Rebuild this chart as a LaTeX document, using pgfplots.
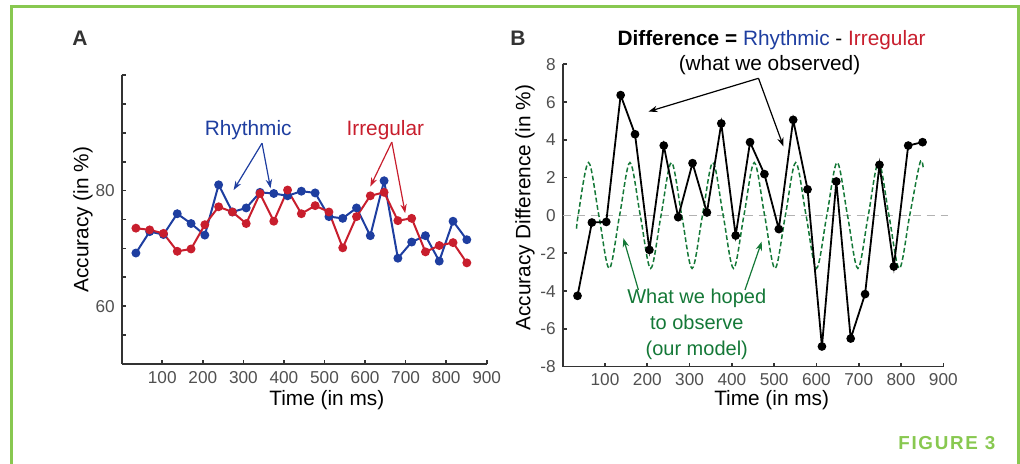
\documentclass[border=0pt]{standalone}
\usepackage{fontspec}
\setmainfont{Liberation Sans}
\newfontfamily\figfont[LetterSpace=9]{Liberation Sans}
\usepackage{pgfplots}
\usepackage{pgfplotstable}
\pgfplotsset{compat=1.18}
\usetikzlibrary{arrows.meta}

\definecolor{rhy}{RGB}{30,62,160}
\definecolor{irr}{RGB}{200,30,45}
\definecolor{mdl}{RGB}{20,120,55}
\definecolor{frm}{RGB}{136,200,80}
\definecolor{axc}{RGB}{51,51,51}
\definecolor{tkc}{RGB}{80,80,80}

% accuracy per time bin (ms): rhythmic, irregular, difference
\pgfplotstableread{
t   rhy   irr   diff
35  69.2  73.5  -4.25
69  72.9  73.2  -0.37
103 72.4  72.6  -0.34
137 76.0  69.5   6.37
171 74.3  69.9   4.30
205 72.3  74.1  -1.82
239 81.0  77.2   3.70
273 76.3  76.3  -0.09
307 77.0  74.3   2.77
341 79.7  79.5   0.16
375 79.5  74.7   4.87
409 79.1  80.1  -1.06
443 79.9  76.0   3.88
477 79.6  77.4   2.19
511 75.5  76.3  -0.72
545 75.2  70.1   5.06
579 77.0  75.5   1.38
613 72.2  79.1  -6.93
647 81.7  79.7   1.80
681 68.3  74.8  -6.51
715 71.1  75.2  -4.16
749 72.2  69.4   2.68
783 67.8  70.5  -2.70
817 74.7  71.0   3.70
851 71.5  67.5   3.88
}\acc

% model (dashed green): peaks, troughs and zero crossings
\pgfplotstableread{
t     v
33    -0.7
36.5   0
61     2.8
85.5   0
110   -2.8
134.5  0
159    2.8
183.5  0
208   -2.8
232.5  0
257    2.8
281.5  0
306   -2.8
330.5  0
355    2.8
379.5  0
404   -2.8
428.5  0
453    2.8
477.5  0
502   -2.8
526.5  0
551    2.8
575.5  0
600   -2.8
624.5  0
649    2.8
673.5  0
698   -2.8
722.5  0
747    2.8
771.5  0
796   -2.8
820.5  0
845    2.8
853    2.45
}\model

\tikzset{ann/.style={-{Stealth[length=4.5pt,width=3.2pt]}, line width=0.6pt}}

\pgfplotsset{
  panel/.style={
    scale only axis,
    axis lines=left,
    axis line style={-,axc,line width=0.8pt},
    tick align=inside,
    major tick length=2pt, minor tick length=2pt,
    tick style={axc,line width=0.8pt},
    tick label style={font=\fontsize{8.6}{10}\selectfont, color=tkc},
    /pgf/number format/assume math mode=true,
    label style={font=\fontsize{10.4}{12}\selectfont},
    clip=false,
    xmin=0, xmax=900,
    xtick={100,200,...,900},
    xlabel={Time (in ms)},
  },
}

\begin{document}
\begin{tikzpicture}
\path[use as bounding box] (0pt,0pt) rectangle (510pt,232pt);
\draw[frm, line width=1.5pt] (5.75pt,0pt) -- (5.75pt,228.5pt) -- (509pt,228.5pt) -- (509pt,0pt);

\node[font=\fontsize{10.5}{12}\selectfont\bfseries, text=axc] at (40pt,213pt) {A};
\node[font=\fontsize{10.5}{12}\selectfont\bfseries, text=axc] at (259pt,213pt) {B};
\node[font=\figfont\bfseries\fontsize{9.4}{11}\selectfont, text=frm] at (473.4pt,10.35pt) {FIGURE 3};

% ---- panel A
\begin{axis}[panel,
  at={(60.85pt,50pt)}, anchor=south west,
  width=182.5pt, height=144.5pt,
  ymin=50, ymax=100,
  ytick={60,80},
  minor ytick={55,65,70,75,85,90,95,100},
  ylabel={Accuracy (in \%)},
  ylabel style={at={(axis description cs:-0.106,0.5)}, anchor=center},
  xlabel style={at={(axis description cs:0.562,-0.125)}, anchor=center},
]
\addplot[rhy, line width=1pt, mark=*, mark size=1.7pt] table[x=t,y=rhy]{\acc};
\addplot[irr, line width=1pt, mark=*, mark size=1.7pt] table[x=t,y=irr]{\acc};

\node[rhy, font=\fontsize{10.4}{12}\selectfont] at (axis cs:312,90.5) {Rhythmic};
\draw[ann, rhy] (axis cs:346,88.2) -- (axis cs:276,80.1);
\draw[ann, rhy] (axis cs:346,88.2) -- (axis cs:367,80.4);
\node[irr, font=\fontsize{10.4}{12}\selectfont] at (axis cs:650,90.5) {Irregular};
\draw[ann, irr] (axis cs:666,88.4) -- (axis cs:613,80.7);
\draw[ann, irr] (axis cs:666,88.4) -- (axis cs:699,76.1);
\end{axis}

% ---- panel B
\begin{axis}[panel,
  at={(281.35pt,48.65pt)}, anchor=south west,
  width=190.3pt, height=151.2pt,
  ymin=-8, ymax=8,
  ytick={-8,-6,...,8},
  ylabel={Accuracy Difference (in \%)},
  ylabel style={at={(axis description cs:-0.099,0.526)}, anchor=center},
  xlabel style={at={(axis description cs:0.549,-0.11)}, anchor=center},
]
\addplot[gray!60, line width=0.8pt, dash pattern=on 4pt off 3pt] coordinates {(0,0) (910,0)};
\addplot[mdl, line width=0.75pt, dash pattern=on 2.4pt off 1.3pt, smooth, tension=0.55] table[x=t,y=v]{\model};
\addplot[black, line width=0.9pt, mark=*, mark size=1.7pt] table[x=t,y=diff]{\acc};

\node[font=\fontsize{10.4}{12}\selectfont] at (axis cs:494,9.3)
  {\textbf{Difference =} \textcolor{rhy}{Rhythmic} - \textcolor{irr}{Irregular}};
\node[font=\fontsize{10.4}{12}\selectfont] at (axis cs:489,7.97) {(what we observed)};
\draw[ann] (axis cs:463,7.26) -- (axis cs:203,5.5);
\draw[ann] (axis cs:463,7.26) -- (axis cs:522,3.65);

\node[mdl, font=\fontsize{10}{13}\selectfont, align=center] at (axis cs:317,-5.74)
  {What we hoped\\to observe\\(our model)};
\draw[ann, mdl] (axis cs:179,-3.94) -- (axis cs:143.5,-1.2);
\draw[ann, mdl] (axis cs:431,-3.94) -- (axis cs:470.6,-1.38);
\end{axis}
\end{tikzpicture}
\end{document}
